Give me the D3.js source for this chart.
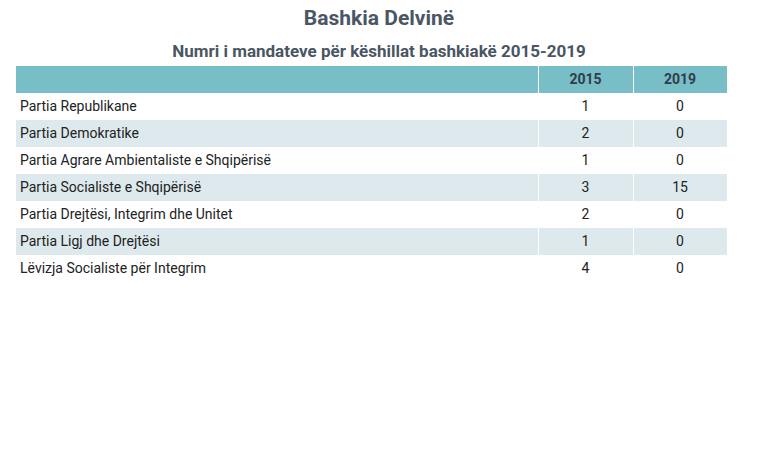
<!DOCTYPE html><html><head><meta charset="utf-8"><script src="https://cdn.jsdelivr.net/npm/d3@7"></script>
<style>body{margin:0;background:#fff;font-family:Roboto,sans-serif}</style></head><body><svg id="c" width="758" height="459"></svg>
<script>
const parties=["Partia Republikane","Partia Demokratike","Partia Agrare Ambientaliste e Shqipërisë","Partia Socialiste e Shqipërisë","Partia Drejtësi, Integrim dhe Unitet","Partia Ligj dhe Drejtësi","Lëvizja Socialiste për Integrim"];
const years=["2015","2019"];
const v2015=[1,2,1,3,2,1,4];
const v2019=[0,0,0,15,0,0,0];
const svg=d3.select("#c");
const txt="#4a5663";
svg.append("text").attr("x",379).attr("y",25).attr("text-anchor","middle").attr("font-size",21).attr("font-weight","bold").attr("fill",txt).text("Bashkia Delvinë");
svg.append("text").attr("x",379).attr("y",57).attr("text-anchor","middle").attr("font-size",17).attr("font-weight","bold").attr("fill",txt).text("Numri i mandateve për këshillat bashkiakë 2015-2019");
const x=d3.scaleOrdinal().domain(["name","2015","2019"]).range([16,538,633]);
const w={name:522,"2015":95,"2019":94};
const y=d3.scaleBand().domain(d3.range(-1,parties.length)).range([66,66+27*8]);
const g=svg.append("g");
["name",...years].forEach(k=>g.append("rect").attr("x",x(k)).attr("y",y(-1)).attr("width",w[k]).attr("height",y.bandwidth()).attr("fill","#78bec6"));
g.append("rect").attr("x",x("2015")).attr("y",y(-1)).attr("width",1).attr("height",y.bandwidth()).attr("fill","#fff");
g.append("rect").attr("x",x("2019")).attr("y",y(-1)).attr("width",1).attr("height",y.bandwidth()).attr("fill","#fff");
years.forEach(k=>g.append("text").attr("x",x(k)+w[k]/2).attr("y",y(-1)+18).attr("text-anchor","middle").attr("font-size",14).attr("font-weight","bold").attr("fill","#2f3d4a").text(k));
parties.forEach((p,i)=>{
  if(i%2==1){["name",...years].forEach(k=>g.append("rect").attr("x",x(k)).attr("y",y(i)).attr("width",w[k]).attr("height",y.bandwidth()).attr("fill","#dde9ec"));
    [x("2015"),x("2019")].forEach(xx=>g.append("rect").attr("x",xx).attr("y",y(i)).attr("width",1).attr("height",y.bandwidth()).attr("fill","#fff"));}
  g.append("text").attr("x",20).attr("y",y(i)+18).attr("font-size",14).attr("fill","#222").text(p);
  [v2015[i],v2019[i]].forEach((v,j)=>g.append("text").attr("x",x(years[j])+w[years[j]]/2).attr("y",y(i)+18).attr("text-anchor","middle").attr("font-size",14).attr("fill","#222").text(v));
});
</script></body></html>
